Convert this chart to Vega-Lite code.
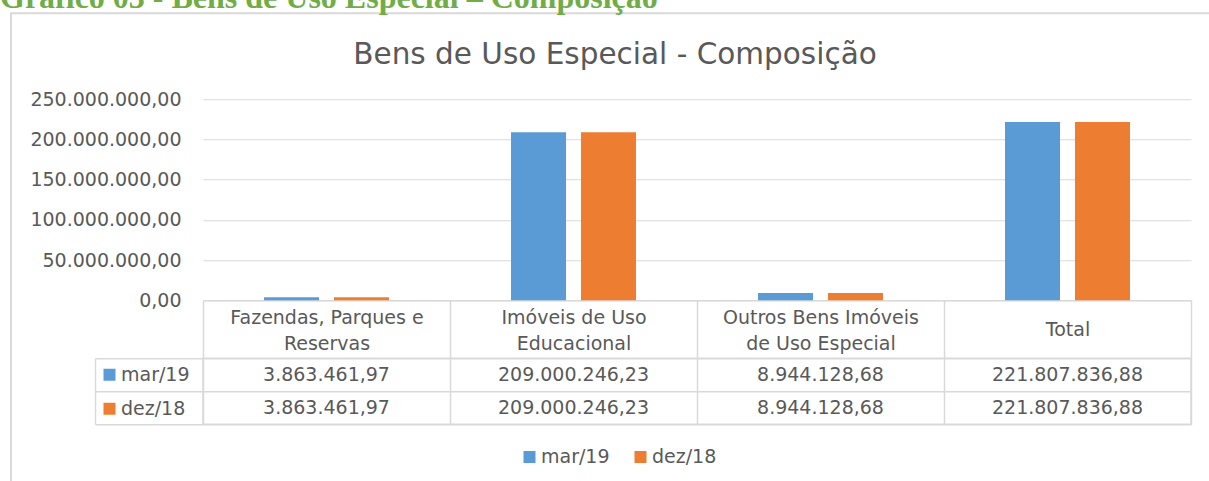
{
  "$schema": "https://vega.github.io/schema/vega-lite/v6.json",
  "padding": {"left": 0, "top": -18.75, "right": -643, "bottom": -514},
  "autosize": {"type": "pad"},
  "background": "white",
  "title": {
    "text": "Gráfico 03 - Bens de Uso Especial – Composição",
    "font": "Liberation Serif",
    "fontSize": 32,
    "fontWeight": "bold",
    "color": "#70ad47",
    "anchor": "start",
    "frame": "bounds",
    "dx": -10,
    "offset": -2.75
  },
  "datasets": {
    "d": [
      {"category": "Fazendas, Parques e Reservas", "series": "mar/19", "value": 3863461.97},
      {"category": "Fazendas, Parques e Reservas", "series": "dez/18", "value": 3863461.97},
      {"category": "Imóveis de Uso Educacional", "series": "mar/19", "value": 209000246.23},
      {"category": "Imóveis de Uso Educacional", "series": "dez/18", "value": 209000246.23},
      {"category": "Outros Bens Imóveis de Uso Especial", "series": "mar/19", "value": 8944128.68},
      {"category": "Outros Bens Imóveis de Uso Especial", "series": "dez/18", "value": 8944128.68},
      {"category": "Total", "series": "mar/19", "value": 221807836.88},
      {"category": "Total", "series": "dez/18", "value": 221807836.88}
    ]
  },
  "spacing": 58,
  "bounds": "flush",
  "resolve": {"legend": {"color": "independent"}},
  "vconcat": [
    {
      "width": 988,
      "height": 201,
      "data": {"name": "d"},
      "view": {"stroke": null},
      "title": {
        "text": "Bens de Uso Especial - Composição",
        "font": "DejaVu Sans",
        "fontSize": 29.5,
        "fontWeight": "normal",
        "color": "#595959",
        "anchor": "middle",
        "dx": -82,
        "offset": 20
      },
      "mark": {"type": "bar"},
      "encoding": {
        "x": {
          "field": "category",
          "type": "nominal",
          "sort": ["Fazendas, Parques e Reservas", "Imóveis de Uso Educacional", "Outros Bens Imóveis de Uso Especial", "Total"],
          "scale": {"paddingInner": 0, "paddingOuter": 0},
          "axis": {
            "title": null,
            "labelAngle": 0,
            "domainColor": "#d9d9d9",
            "domainWidth": 1.5,
            "tickColor": "#d9d9d9",
            "tickWidth": 1.5,
            "tickSize": 58,
            "tickBand": "extent",
            "labelBaseline": "middle",
            "labelPadding": {"condition": {"test": "datum.value == 'Total'", "value": -29}, "value": -41},
            "labelLineHeight": 26,
            "labelLimit": 400,
            "labelExpr": "datum.value == 'Fazendas, Parques e Reservas' ? ['Fazendas, Parques e', 'Reservas'] : datum.value == 'Imóveis de Uso Educacional' ? ['Imóveis de Uso', 'Educacional'] : datum.value == 'Outros Bens Imóveis de Uso Especial' ? ['Outros Bens Imóveis', 'de Uso Especial'] : datum.label"
          }
        },
        "xOffset": {
          "field": "series",
          "type": "nominal",
          "sort": ["mar/19", "dez/18"],
          "scale": {"paddingInner": 0.214, "paddingOuter": 0.872}
        },
        "y": {
          "field": "value",
          "type": "quantitative",
          "scale": {"domain": [0, 250000000], "nice": false},
          "axis": {
            "title": null,
            "values": [0, 50000000, 100000000, 150000000, 200000000, 250000000],
            "format": ",.2f",
            "domain": false,
            "ticks": false,
            "labelPadding": 22,
            "gridColor": "#d9d9d9",
            "gridWidth": 1
          }
        },
        "color": {
          "field": "series",
          "type": "nominal",
          "scale": {"domain": ["mar/19", "dez/18"], "range": ["#5b9bd5", "#ed7d31"]},
          "legend": {
            "orient": "none",
            "direction": "horizontal",
            "legendX": 317,
            "legendY": 348,
            "title": null,
            "columnPadding": 21,
            "symbolSize": 144,
            "symbolType": "square",
            "labelOffset": 2
          }
        }
      }
    },
    {
      "width": 988,
      "height": 66,
      "data": {"name": "d"},
      "view": {"stroke": "#d9d9d9", "strokeWidth": 1.5},
      "encoding": {
        "x": {
          "field": "category",
          "type": "nominal",
          "sort": ["Fazendas, Parques e Reservas", "Imóveis de Uso Educacional", "Outros Bens Imóveis de Uso Especial", "Total"],
          "scale": {"paddingInner": 0, "paddingOuter": 0},
          "axis": {
            "title": null,
            "labels": false,
            "ticks": false,
            "domain": false,
            "grid": true,
            "tickBand": "extent",
            "gridColor": "#d9d9d9",
            "gridWidth": 1.5
          }
        },
        "y": {
          "field": "series",
          "type": "nominal",
          "sort": ["mar/19", "dez/18"],
          "scale": {"paddingInner": 0, "paddingOuter": 0},
          "axis": {
            "title": null,
            "labels": false,
            "grid": false,
            "domain": true,
            "domainColor": "#d9d9d9",
            "domainWidth": 1.5,
            "ticks": true,
            "tickBand": "extent",
            "tickSize": -1096,
            "tickColor": "#d9d9d9",
            "tickWidth": 1.5,
            "offset": 108
          }
        }
      },
      "layer": [
        {
          "mark": {"type": "text", "font": "DejaVu Sans", "fontSize": 19, "color": "#595959", "baseline": "middle"},
          "encoding": {
            "text": {"field": "value", "type": "quantitative", "format": ",.2f"},
            "opacity": {
              "field": "category",
              "type": "nominal",
              "scale": {"range": [1, 1]},
              "legend": {
                "orient": "none",
                "direction": "horizontal",
                "legendX": -192,
                "legendY": -86,
                "title": null,
                "padding": 480,
                "strokeColor": "#d9d9d9",
                "columnPadding": 260,
                "symbolSize": 400,
                "symbolType": "square",
                "labelOffset": 0,
                "labelExpr": "''"
              }
            }
          }
        },
        {
          "mark": {"type": "point", "shape": "square", "filled": true, "opacity": 0},
          "encoding": {
            "color": {
              "field": "series",
              "type": "nominal",
              "legend": {
                "orient": "none",
                "direction": "vertical",
                "legendX": -103,
                "legendY": 7,
                "title": null,
                "rowPadding": 14,
                "symbolSize": 144,
                "symbolType": "square",
                "labelOffset": 2
              }
            }
          }
        }
      ]
    }
  ],
  "config": {
    "locale": {"number": {"decimal": ",", "thousands": ".", "grouping": [3], "currency": ["R$", ""]}},
    "font": "DejaVu Sans",
    "axis": {"labelFont": "DejaVu Sans", "labelFontSize": 19, "labelColor": "#595959"},
    "legend": {"labelFont": "DejaVu Sans", "labelFontSize": 19, "labelColor": "#595959", "strokeWidth": 2},
    "view": {"stroke": null}
  }
}
